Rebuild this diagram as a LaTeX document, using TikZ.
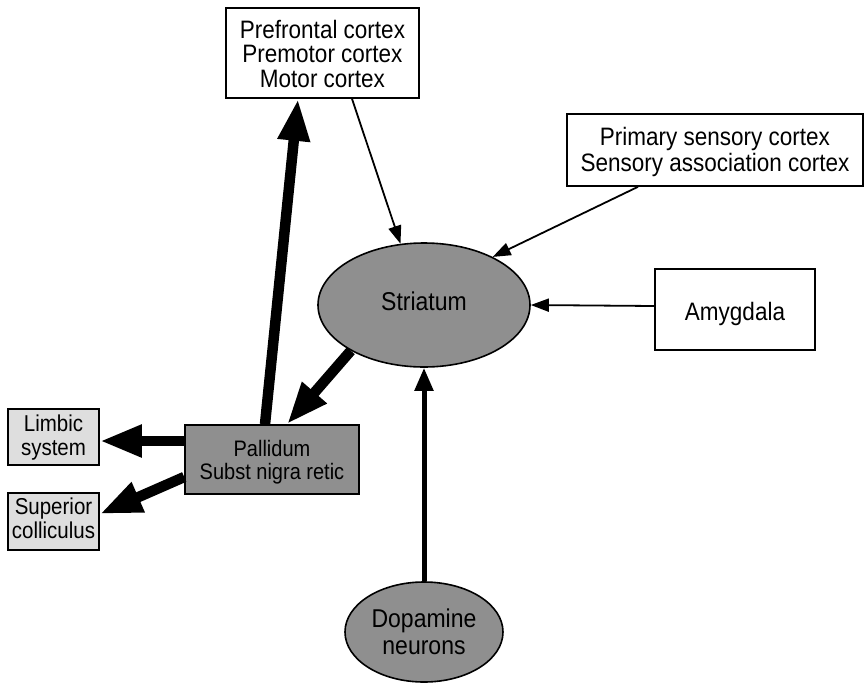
\documentclass[tikz,border=0pt]{standalone}
\usepackage{graphicx}
\usepackage{fontspec}
\setmainfont{Liberation Sans}
\usetikzlibrary{shapes.geometric,arrows.meta}
\newcommand\vtxt[2][3.5pt]{\raisebox{-#1}[\height][\depth]{\scalebox{1}[1.12]{\begin{tabular}{@{}c@{}}#2\end{tabular}}}}
\begin{document}
\begin{tikzpicture}[x=1pt,y=-1pt,
  box/.style={draw, line width=1.6pt, inner sep=0pt, align=center, font=\fontsize{22.5}{21.4}\selectfont},
  whitebox/.style={box, fill=white},
  darkbox/.style={box, fill=black!44, font=\fontsize{20}{20}\selectfont},
  lightbox/.style={box, fill=black!13, font=\fontsize{20.5}{21.4}\selectfont},
  oval/.style={ellipse, draw, line width=1.6pt, fill=black!44, inner sep=0pt, align=center, font=\fontsize{23}{24}\selectfont},
  thinarrow/.style={line width=1.8pt, -{Triangle[length=18pt,width=13pt]}},
  midarrow/.style={line width=5pt, -{Triangle[length=23pt,width=18pt]}},
  heavyarrow/.style={line width=10.5pt, -{Triangle[length=42pt,width=30pt]}}
]
\fill[white] (0,0) rectangle (865,683);
\useasboundingbox (0,0) rectangle (865,683);

\node[whitebox, minimum width=193pt, minimum height=90pt] (pref) at (322.5,53) {\vtxt[4pt]{Prefrontal cortex\\Premotor cortex\\Motor cortex}};
\node[whitebox, minimum width=296pt, minimum height=72pt] (sens) at (715,150) {\vtxt[3pt]{Primary sensory cortex\\Sensory association cortex}};
\node[whitebox, minimum width=160pt, minimum height=81pt] (amy) at (735,309.5) {\vtxt[5pt]{Amygdala}};
\node[oval, minimum width=212pt, minimum height=124pt] (stri) at (424,305) {\vtxt[0pt]{Striatum}};
\node[darkbox, minimum width=174pt, minimum height=69pt] (pall) at (272,459.5) {\vtxt[4pt]{Pallidum\\Subst nigra retic}};
\node[lightbox, minimum width=91pt, minimum height=56pt] (limb) at (53.5,437) {\vtxt[2pt]{Limbic\\system}};
\node[lightbox, minimum width=91pt, minimum height=57pt] (supc) at (53.5,521.5) {\vtxt[0pt]{Superior\\colliculus}};
\node[oval, minimum width=158pt, minimum height=100pt] (dop) at (424,632) {\vtxt[3.5pt]{Dopamine\\neurons}};

\draw[thinarrow] ([xshift=29.5pt]pref.south) -- (stri.111.7);
\draw[thinarrow] ([xshift=-77pt]sens.south) -- (stri.35.6);
\draw[thinarrow] ([yshift=3.5pt]amy.west) -- (stri.east);
\draw[midarrow] (dop.north) -- (stri.south);
\draw[heavyarrow] ([xshift=-7pt]pall.north) -- ([xshift=-24.5pt]pref.south);
\draw[heavyarrow] (stri.212.2) -- ([xshift=15pt]pall.north);
\draw[heavyarrow] ([yshift=18.5pt]pall.west) -- ([yshift=-4pt]limb.east);
\draw[heavyarrow] ([yshift=-17.5pt]pall.west) -- ([yshift=7.5pt]supc.east);
\end{tikzpicture}
\end{document}
